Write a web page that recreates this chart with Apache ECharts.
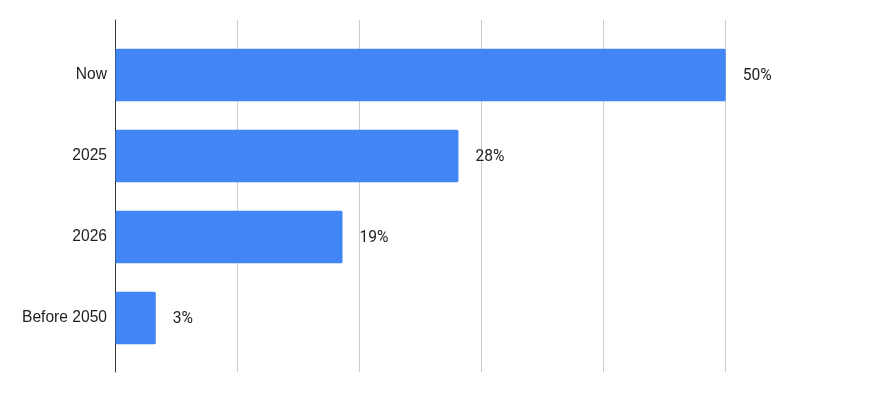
<!DOCTYPE html>
<html>
<head>
<meta charset="utf-8">
<script src="https://cdn.jsdelivr.net/npm/echarts@6/dist/echarts.min.js"></script>
<style>
html,body{margin:0;padding:0;background:#fff;}
#chart{width:869px;height:413px;}
</style>
</head>
<body>
<div id="chart"></div>
<script>
const categories = ['Now', '2025', '2026', 'Before 2050'];
const values = [50, 28.1, 18.6, 3.3];
const xTicks = [0, 10, 20, 30, 40, 50];

const chart = echarts.init(document.getElementById('chart'), null, {renderer: 'canvas'});
const catFont = '"Liberation Sans", Arial, sans-serif';
const valFont = 'Roboto, Arial, sans-serif';
chart.setOption({
  animation: false,
  backgroundColor: '#ffffff',
  grid: [
    {left: 115.5, right: 143.3, top: 20, height: 352},
    {left: 115.5, right: 143.3, top: 34.5, height: 324}
  ],
  xAxis: [
    {gridIndex: 0, type: 'value', min: xTicks[0], max: xTicks[xTicks.length - 1], interval: 10,
     axisLabel: {show: false}, axisLine: {show: false}, axisTick: {show: false},
     splitLine: {show: true, lineStyle: {color: '#cccccc', width: 1}}},
    {gridIndex: 1, type: 'value', min: xTicks[0], max: xTicks[xTicks.length - 1], interval: 10,
     axisLabel: {show: false}, axisLine: {show: false}, axisTick: {show: false},
     splitLine: {show: false}}
  ],
  yAxis: [
    {gridIndex: 0, type: 'category', data: [''],
     axisLabel: {show: false}, axisTick: {show: false},
     axisLine: {show: true, lineStyle: {color: '#333333', width: 1}}, splitLine: {show: false}},
    {gridIndex: 1, type: 'category', data: categories, inverse: true,
     axisLine: {show: false}, axisTick: {show: false}, splitLine: {show: false},
     axisLabel: {color: '#222222', fontSize: 15.6, fontFamily: catFont, margin: 8.5}}
  ],
  series: [{
    type: 'bar',
    xAxisIndex: 1,
    yAxisIndex: 1,
    data: values,
    barCategoryGap: '35%',
    itemStyle: {color: '#4285F4', borderRadius: 1.5},
    label: {
      show: true, position: 'right', distance: 17,
      color: '#222222', fontSize: 15.6, fontFamily: valFont,
      offset: [0, 1.5],
      formatter: p => Math.round(p.value) + '%'
    }
  }]
});
</script>
</body>
</html>
